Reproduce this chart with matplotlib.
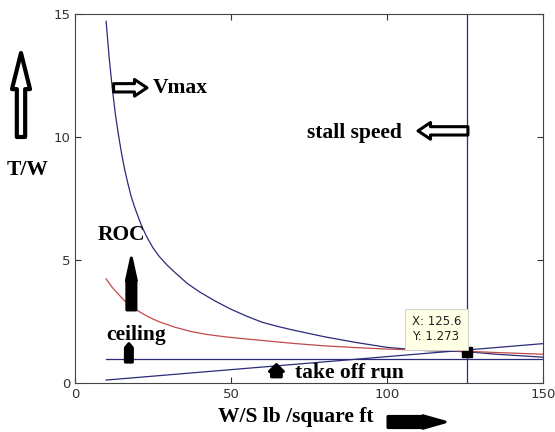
import numpy as np
import matplotlib.pyplot as plt

# W/S (lb/ft^2) vs T/W constraint curves
ws_vmax = [10, 11, 12, 13, 14, 15, 16, 17, 18, 19, 20, 21.5, 23, 25, 27, 29.5, 32, 36, 40, 45,
           50, 55, 60, 65, 70, 80, 90, 100, 112, 125.6, 135, 150]
tw_vmax = [14.7, 13.2, 11.95, 10.9, 10.05, 9.3, 8.65, 8.1, 7.6, 7.2, 6.85, 6.35, 5.95, 5.5, 5.15, 4.8,
           4.5, 4.05, 3.7, 3.33, 3.0, 2.72, 2.47, 2.3, 2.15, 1.88, 1.65, 1.45, 1.32, 1.273, 1.17, 1.05]

ws_roc = [10, 12, 14, 16, 18, 20, 22, 24.5, 27, 32, 37, 42, 48, 54, 60, 70, 80, 90, 100, 112, 125.6, 135, 150]
tw_roc = [4.23, 3.88, 3.6, 3.33, 3.12, 2.95, 2.8, 2.63, 2.49, 2.27, 2.1, 1.98, 1.88, 1.8, 1.73, 1.61,
          1.51, 1.44, 1.38, 1.33, 1.29, 1.24, 1.17]

ws_ceiling = [10, 150]
tw_ceiling = [0.96, 0.96]

ws_takeoff = [10, 150]
tw_takeoff = [0.12, 1.6]

ws_stall = 125.6
tip_x, tip_y = 125.6, 1.273

xticks = [0, 50, 100, 150]
yticks = [0, 5, 10, 15]

fig = plt.figure(figsize=(5.55, 4.32), dpi=100)
ax = fig.add_axes([0.135, 0.1134, 0.843, 0.8542])

navy = '#2b2b7a'
ax.plot(ws_vmax, tw_vmax, color=navy, lw=0.9)
ax.plot(ws_roc, tw_roc, color='#c04a4a', lw=0.9)
ax.plot(ws_ceiling, tw_ceiling, color=navy, lw=0.9)
ax.plot(ws_takeoff, tw_takeoff, color=navy, lw=0.9)
ax.axvline(ws_stall, color=navy, lw=0.9)

ax.set_xlim(0, 150)
ax.set_ylim(0, 15)
ax.set_xticks(xticks)
ax.set_yticks(yticks)
ax.tick_params(direction='in', top=True, right=True, labelsize=9.5, colors='#333333', length=4)
for s in ax.spines.values():
    s.set_color('#444444')
    s.set_linewidth(0.8)

# data tip
ax.plot(tip_x, tip_y, 's', color='black', ms=6.5)
ax.annotate('X: %.1f\nY: %.3f' % (tip_x, tip_y), xy=(tip_x, tip_y), xytext=(-4, 6),
            textcoords='offset points', ha='right', va='bottom', multialignment='left',
            fontsize=8.5, color='#222222',
            bbox=dict(boxstyle='square,pad=0.55', fc='#ffffe6', ec='#cccccc', lw=0.6))

serif = dict(family='Liberation Serif', fontweight='bold', fontsize=15.5)
ax.text(25, 12.0, 'Vmax', va='center', **serif)
ax.text(74.4, 10.15, 'stall speed', va='center', **serif)
ax.text(7.4, 6.0, 'ROC', va='center', **serif)
ax.text(9.9, 1.95, 'ceiling', va='center', **serif)
ax.text(70.5, 0.42, 'take off run', va='center', **serif)
fig.text(7 / 555, 1 - 170 / 432, 'T/W', va='center', **serif)
fig.text(218 / 555, 1 - 417 / 432, 'W/S lb /square ft', va='center', **serif)


def arrow(xy, xytext, fc, hl, hw, tw, coords='data', lw=2.2):
    ax.annotate('', xy=xy, xytext=xytext, xycoords=coords, textcoords=coords,
                arrowprops=dict(arrowstyle='simple,head_length=%s,head_width=%s,tail_width=%s' % (hl, hw, tw),
                                fc=fc, ec='black', lw=lw, mutation_scale=10,
                                shrinkA=0, shrinkB=0),
                annotation_clip=False)


# hollow block arrows
arrow((23.1, 12.0), (12.4, 12.0), 'white', 0.9, 1.2, 0.6)
arrow((110, 10.25), (126, 10.25), 'white', 0.9, 1.2, 0.6)
arrow((21, 432 - 53), (21, 432 - 137), 'white', 2.6, 1.3, 0.6, coords='figure pixels', lw=3)

# solid arrows
arrow((18.1, 5.08), (18.1, 2.97), 'black', 1.6, 0.7, 0.65)
arrow((17.3, 1.6), (17.3, 0.85), 'black', 0.3, 0.5, 0.5)
arrow((64.6, 0.75), (64.6, 0.25), 'black', 0.5, 1.0, 0.7)
arrow((445, 10), (388, 10), 'black', 1.6, 0.9, 0.8, coords='figure pixels')

fig.savefig('out.png', dpi=100)
